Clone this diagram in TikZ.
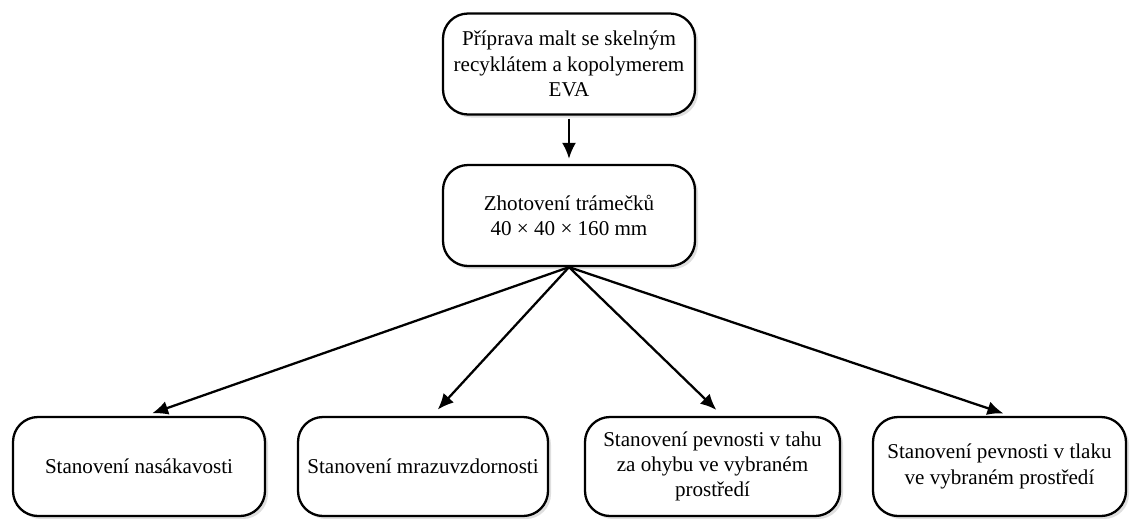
\documentclass[tikz,border=0pt]{standalone}
\usepackage{fontspec}
\setmainfont{Liberation Serif}
\usetikzlibrary{arrows.meta,shadows}

\begin{document}
\begin{tikzpicture}[
    box/.style={draw, line width=1.3pt, rounded corners=0.5cm, fill=white, align=center,
        minimum height=2.02cm, font=\fontsize{12}{14.4}\selectfont,
        drop shadow={shadow xshift=0.6mm, shadow yshift=-0.6mm, opacity=0.25, fill=gray}},
    link/.style={line width=1.3pt, -{Latex[length=3.2mm, width=2.8mm]}}
    ]
    \useasboundingbox (0,0) rectangle (22.6,-10.36);
    % top row
    \node [box, minimum width=5.04cm] (prep) at (11.38,-1.28) {Příprava malt se skelným\\recyklátem a kopolymerem\\EVA};
    \node [box, minimum width=5.04cm] (beams) at (11.38,-4.31) {Zhotovení trámečků\\40 × 40 × 160 mm};
    % bottom row
    \node [box, minimum width=5.04cm, minimum height=1.98cm] (abs) at (2.78,-9.33) {Stanovení nasákavosti};
    \node [box, minimum width=5.0cm, minimum height=1.98cm] (frost) at (8.46,-9.33) {Stanovení mrazuvzdornosti};
    \node [box, minimum width=5.1cm, minimum height=1.98cm] (bend) at (14.25,-9.33) {Stanovení pevnosti v tahu\\za ohybu ve vybraném\\prostředí};
    \node [box, minimum width=5.06cm, minimum height=1.98cm] (press) at (19.99,-9.33) {Stanovení pevnosti v tlaku\\ve vybraném prostředí};
    % arrows
    \draw [link, shorten <=0.06cm, shorten >=0.1cm] (prep.south) -- (beams.north);
    \draw [link, shorten >=0.15cm] (beams.south) -- ([xshift=0.12cm]abs.north);
    \draw [link, shorten >=0.17cm] (beams.south) -- ([xshift=0.18cm]frost.north);
    \draw [link, shorten >=0.17cm] (beams.south) -- ([xshift=0.2cm]bend.north);
    \draw [link, shorten >=0.15cm] (beams.south) -- ([xshift=0.22cm]press.north);
\end{tikzpicture}
\end{document}
